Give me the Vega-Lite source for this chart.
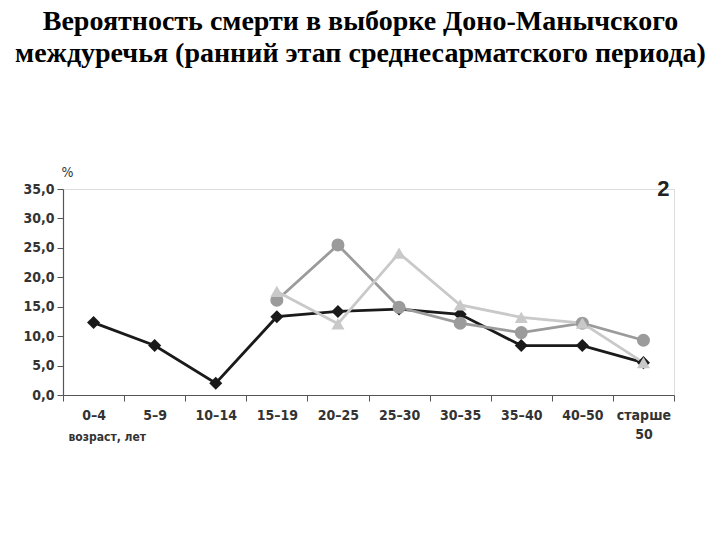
{
  "$schema": "https://vega.github.io/schema/vega-lite/v6.json",
  "width": 611,
  "height": 206,
  "autosize": {"type": "none"},
  "padding": {"left": 63, "top": 189, "right": 46, "bottom": 145},
  "background": "white",
  "title": {
    "text": ["Вероятность смерти в выборке Доно-Манычского", "междуречья (ранний этап среднесарматского периода)"],
    "font": "Liberation Serif",
    "fontSize": 28,
    "fontWeight": "bold",
    "color": "#000000",
    "lineHeight": 32,
    "anchor": "middle",
    "dx": -8,
    "offset": 97
  },
  "data": {
    "values": [
      {"series": "A", "age": "0–4", "value": 12.3},
      {"series": "A", "age": "5–9", "value": 8.4},
      {"series": "A", "age": "10–14", "value": 2.0},
      {"series": "A", "age": "15–19", "value": 13.3},
      {"series": "A", "age": "20–25", "value": 14.2},
      {"series": "A", "age": "25–30", "value": 14.6},
      {"series": "A", "age": "30–35", "value": 13.7},
      {"series": "A", "age": "35–40", "value": 8.4},
      {"series": "A", "age": "40–50", "value": 8.4},
      {"series": "A", "age": "старше 50", "value": 5.5},
      {"series": "B", "age": "15–19", "value": 16.1},
      {"series": "B", "age": "20–25", "value": 25.5},
      {"series": "B", "age": "25–30", "value": 14.9},
      {"series": "B", "age": "30–35", "value": 12.2},
      {"series": "B", "age": "35–40", "value": 10.6},
      {"series": "B", "age": "40–50", "value": 12.2},
      {"series": "B", "age": "старше 50", "value": 9.3},
      {"series": "C", "age": "15–19", "value": 17.6},
      {"series": "C", "age": "20–25", "value": 12.1},
      {"series": "C", "age": "25–30", "value": 24.1},
      {"series": "C", "age": "30–35", "value": 15.3},
      {"series": "C", "age": "35–40", "value": 13.2},
      {"series": "C", "age": "40–50", "value": 12.2},
      {"series": "C", "age": "старше 50", "value": 5.5}
    ]
  },
  "encoding": {
    "x": {
      "field": "age",
      "type": "ordinal",
      "sort": ["0–4", "5–9", "10–14", "15–19", "20–25", "25–30", "30–35", "35–40", "40–50", "старше 50"],
      "scale": {"type": "band", "paddingInner": 0, "paddingOuter": 0},
      "axis": {
        "title": "возраст, лет",
        "titleFont": "DejaVu Sans Condensed, Liberation Sans",
        "titleFontSize": 12,
        "titleFontWeight": "bold",
        "titleColor": "#333333",
        "titleAnchor": "start",
        "titleAlign": "left",
        "titleX": 5,
        "titleY": 36,
        "labelAngle": 0,
        "labelFont": "DejaVu Sans Condensed, Liberation Sans",
        "labelFontSize": 14,
        "labelFontWeight": "bold",
        "labelColor": "#333333",
        "labelPadding": 7,
        "labelExpr": "datum.value == 'старше 50' ? ['старше', '50'] : datum.value",
        "labelLineHeight": 19,
        "tickBand": "extent",
        "tickSize": 6,
        "tickColor": "#555555",
        "domainColor": "#555555",
        "domainWidth": 1.2,
        "grid": false
      }
    },
    "y": {
      "field": "value",
      "type": "quantitative",
      "scale": {"domain": [0, 35]},
      "axis": {
        "title": "%",
        "titleAngle": 0,
        "titleFont": "DejaVu Sans Condensed, Liberation Sans",
        "titleFontSize": 14,
        "titleFontWeight": "normal",
        "titleColor": "#333333",
        "titleX": 4,
        "titleY": -10,
        "titleAlign": "center",
        "values": [0, 5, 10, 15, 20, 25, 30, 35],
        "labelExpr": "replace(format(datum.value, '.1f'), '.', ',')",
        "labelFont": "DejaVu Sans Condensed, Liberation Sans",
        "labelFontSize": 14,
        "labelFontWeight": "bold",
        "labelColor": "#333333",
        "labelPadding": 3,
        "tickSize": 6,
        "tickColor": "#555555",
        "domainColor": "#555555",
        "domainWidth": 1.2,
        "grid": false
      }
    }
  },
  "layer": [
    {
      "mark": {"type": "line", "strokeWidth": 2.8},
      "encoding": {
        "color": {
          "field": "series",
          "type": "nominal",
          "scale": {"domain": ["B", "C", "A"], "range": ["#9b9b9b", "#c9c9c9", "#1a1a1a"]},
          "legend": null
        },
        "order": {"field": "series"}
      }
    },
    {
      "mark": {"type": "point", "filled": true, "opacity": 1, "strokeWidth": 0},
      "encoding": {
        "color": {
          "field": "series",
          "type": "nominal",
          "scale": {"domain": ["B", "C", "A"], "range": ["#9b9b9b", "#c9c9c9", "#1a1a1a"]},
          "legend": null
        },
        "shape": {
          "field": "series",
          "type": "nominal",
          "scale": {"domain": ["B", "C", "A"], "range": ["circle", "triangle-up", "diamond"]},
          "legend": null
        },
        "size": {
          "field": "series",
          "type": "nominal",
          "scale": {"domain": ["B", "C", "A"], "range": [170, 170, 110]},
          "legend": null
        }
      }
    },
    {
      "data": {"values": [{"label": "2", "age": "старше 50", "value": 35}]},
      "mark": {"type": "text", "fontSize": 22, "fontWeight": "bold", "font": "Liberation Sans", "color": "#222222", "dx": 20},
      "encoding": {"text": {"field": "label"}}
    }
  ]
}
